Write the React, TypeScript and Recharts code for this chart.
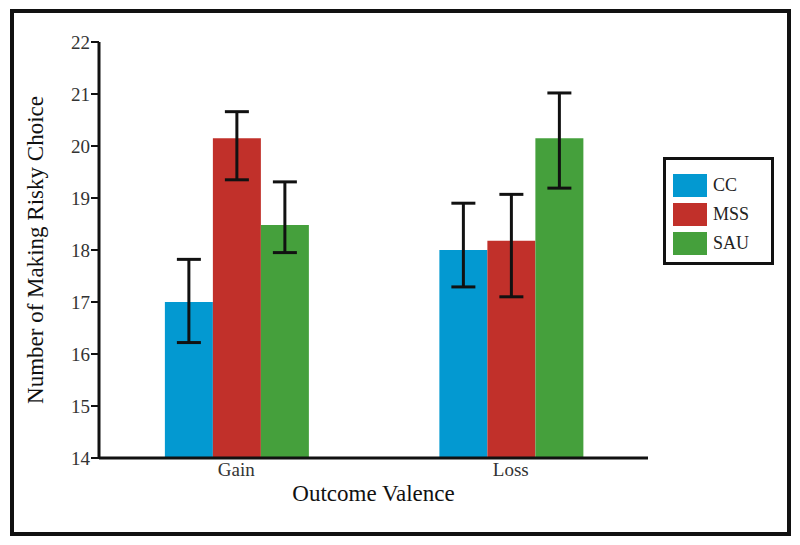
import { Bar, BarChart, ErrorBar, XAxis, YAxis } from "recharts";

const categories = ["Gain", "Loss"];
const ccMeans = [17.0, 18.0];
const mssMeans = [20.15, 18.18];
const sauMeans = [18.48, 20.15];
// [below, above] error lengths
const ccErr = [[0.78, 0.82], [0.71, 0.9]];
const mssErr = [[0.8, 0.51], [1.08, 0.89]];
const sauErr = [[0.53, 0.83], [0.96, 0.87]];
const yTicks = [14, 15, 16, 17, 18, 19, 20, 21, 22];

const series = [
  { key: "CC", color: "#0399d1" },
  { key: "MSS", color: "#c1302a" },
  { key: "SAU", color: "#45a03c" },
];

const data = categories.map((c, i) => ({
  cat: c,
  CC: ccMeans[i],
  MSS: mssMeans[i],
  SAU: sauMeans[i],
  CCe: ccErr[i],
  MSSe: mssErr[i],
  SAUe: sauErr[i],
}));

const font = "'Liberation Serif', 'Times New Roman', serif";

export default function App() {
  return (
    <div style={{ position: "absolute", left: 0, top: 0, width: 800, height: 545, background: "#fff" }}>
      <div
        style={{
          position: "absolute",
          left: 10,
          top: 9,
          width: 781,
          height: 527,
          border: "4px solid #111",
          boxSizing: "border-box",
        }}
      />
      <div style={{ position: "absolute", left: 0, top: 0 }}>
        <BarChart
          width={800}
          height={545}
          data={data}
          margin={{ top: 42, right: 152, bottom: 37, left: 39 }}
          barCategoryGap="24%"
          barGap={0}
        >
          <XAxis
            dataKey="cat"
            tickLine={false}
            tickSize={0}
            tickMargin={5}
            height={50}
            axisLine={{ stroke: "#111", strokeWidth: 3 }}
            tick={{ fill: "#333", fontSize: 19, fontFamily: font }}
            label={{
              value: "Outcome Valence",
              position: "insideBottom",
              offset: 7,
              fill: "#111",
              fontSize: 23,
              fontFamily: font,
            }}
          />
          <XAxis
            xAxisId="top"
            dataKey="cat"
            orientation="top"
            height={0}
            tick={false}
            tickLine={false}
            axisLine={{ stroke: "#111", strokeWidth: 2 }}
          />
          <YAxis
            domain={[14, 22]}
            ticks={yTicks}
            width={60}
            tickSize={8}
            tickMargin={1}
            allowDataOverflow
            axisLine={{ stroke: "#111", strokeWidth: 3 }}
            tickLine={{ stroke: "#111", strokeWidth: 2 }}
            tick={{ fill: "#333", fontSize: 19, fontFamily: font }}
            label={{
              value: "Number of Making Risky Choice",
              angle: -90,
              position: "insideLeft",
              offset: -4,
              style: { textAnchor: "middle" },
              fill: "#111",
              fontSize: 23,
              fontFamily: font,
            }}
          />
          <YAxis
            yAxisId="right"
            orientation="right"
            domain={[14, 22]}
            width={0}
            tick={false}
            tickLine={false}
            axisLine={{ stroke: "#111", strokeWidth: 2.5 }}
          />
          {series.map((s) => (
            <Bar key={s.key} dataKey={s.key} fill={s.color} isAnimationActive={false}>
              <ErrorBar dataKey={`${s.key}e`} width={12} stroke="#111" strokeWidth={3} />
            </Bar>
          ))}
        </BarChart>
      </div>
      <div
        style={{
          position: "absolute",
          left: 663,
          top: 157,
          width: 111,
          height: 108,
          border: "3px solid #111",
          boxSizing: "border-box",
          padding: "11px 0 0 7px",
        }}
      >
        {series.map((s) => (
          <div key={s.key} style={{ display: "flex", alignItems: "center", height: 29 }}>
            <div style={{ width: 34, height: 23, background: s.color }} />
            <span style={{ marginLeft: 6, fontFamily: font, fontSize: 18, color: "#222" }}>{s.key}</span>
          </div>
        ))}
      </div>
    </div>
  );
}
